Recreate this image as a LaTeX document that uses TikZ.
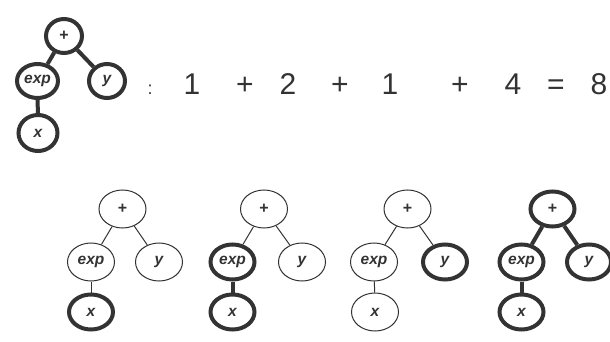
\documentclass[tikz,border=0pt]{standalone}
\usepackage{fontspec}
\setmainfont{Liberation Sans}
\usetikzlibrary{shapes.geometric}
\definecolor{ink}{HTML}{333333}
\begin{document}
\begin{tikzpicture}[x=1pt,y=-1pt,
  tn/.style={ellipse, draw=ink, text=ink, inner sep=0pt, font=\fontsize{15.5}{16}\selectfont\bfseries\itshape},
  plusn/.style={font=\fontsize{16}{16}\selectfont\bfseries},
  topn/.style={tn, line width=4pt, minimum width=36, minimum height=34},
  thin/.style={tn, line width=1pt, minimum width=47, minimum height=38},
  thk/.style={tn, line width=4pt, minimum width=44, minimum height=35},
  ethin/.style={draw=ink, line width=1pt},
  ethk/.style={draw=ink, line width=4pt},
  eq/.style={anchor=base, inner sep=0pt, text=ink, font=\fontsize{30}{30}\selectfont}
]
\useasboundingbox (0,0) rectangle (610,342);

% top tree
\node[topn, plusn] (tp) at (64,36) {+};
\node[topn, minimum width=41] (te) at (37.5,81) {exp};
\node[topn] (ty) at (107,81) {y};
\node[topn, minimum width=39, minimum height=36] (tx) at (38,133) {x};
\draw[ethk] (tp) -- (te);
\draw[ethk] (tp) -- (ty);
\draw[ethk] (te) -- (tx);

% equation
\node[eq, font=\fontsize{18}{18}\selectfont] (c0) at (150,95) {:};
\node[eq] (n1) at (192,95) {1};
\node[eq] (p1) at (245,95) {+};
\node[eq] (n2) at (288,95) {2};
\node[eq] (p2) at (340,95) {+};
\node[eq] (n3) at (390,95) {1};
\node[eq] (p3) at (460,95) {+};
\node[eq] (n4) at (513,95) {4};
\node[eq] (eqs) at (556,95) {=};
\node[eq] (n5) at (599,95) {8};

% bottom tree 1
\node[thin, plusn] (ap) at (122.5,209) {+};
\node[thin] (ae) at (91,262) {exp};
\node[thin] (ay) at (159,262) {y};
\node[thk] (ax) at (91,312) {x};
\draw[ethin] (ap) -- (ae);
\draw[ethin] (ap) -- (ay);
\draw[ethin] (ae) -- (ax);

% bottom tree 2
\node[thin, plusn] (bp) at (264,209) {+};
\node[thk] (be) at (232.5,262) {exp};
\node[thin] (by) at (302,262) {y};
\node[thk] (bx) at (232.5,312) {x};
\draw[ethin] (bp) -- (be);
\draw[ethin] (bp) -- (by);
\draw[ethk] (be) -- (bx);

% bottom tree 3
\node[thin, plusn] (cp) at (407.5,209) {+};
\node[thin] (ce) at (374,262) {exp};
\node[thk] (cy) at (445,262) {y};
\node[thin] (cx) at (375,312) {x};
\draw[ethin] (cp) -- (ce);
\draw[ethin] (cp) -- (cy);
\draw[ethin] (ce) -- (cx);

% bottom tree 4
\node[thk, plusn] (dp) at (552.5,209) {+};
\node[thk] (de) at (521.5,262) {exp};
\node[thk] (dy) at (589,262) {y};
\node[thk] (dx) at (521.5,312) {x};
\draw[ethk] (dp) -- (de);
\draw[ethk] (dp) -- (dy);
\draw[ethk] (de) -- (dx);
\end{tikzpicture}
\end{document}
